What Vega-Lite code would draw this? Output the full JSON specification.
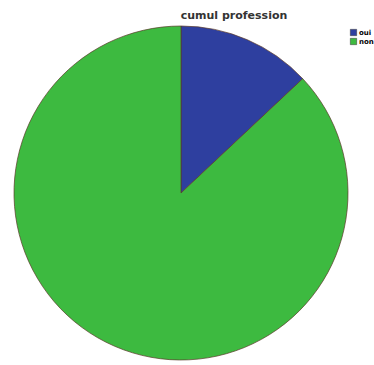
{
  "$schema": "https://vega.github.io/schema/vega-lite/v6.json",
  "autosize": "none",
  "width": 362,
  "height": 334,
  "padding": {"left": 0, "top": 26, "right": 12, "bottom": 5},
  "background": "white",
  "title": {"text": "cumul profession", "fontSize": 11, "font": "DejaVu Sans", "fontWeight": "bold", "color": "#333", "dx": 53, "offset": 4, "anchor": "middle"},
  "data": {"values": [
    {"reponse": "oui", "n": 13},
    {"reponse": "non", "n": 87}
  ]},
  "mark": {"type": "arc", "outerRadius": 167, "stroke": "#5a3a2a", "strokeWidth": 0.7},
  "encoding": {
    "theta": {"field": "n", "type": "quantitative", "stack": true},
    "order": {"field": "reponse", "sort": "descending"},
    "color": {"field": "reponse", "type": "nominal", "sort": ["oui", "non"],
      "scale": {"domain": ["oui", "non"], "range": ["#2e3f9f", "#3dba40"]},
      "legend": {"title": null, "orient": "none", "legendX": 350, "legendY": 3, "symbolType": "square", "symbolSize": 40, "symbolStrokeColor": "#333", "symbolStrokeWidth": 0.5, "labelFontSize": 7, "labelFont": "DejaVu Sans", "labelFontWeight": "bold", "labelOffset": 2, "rowPadding": 0}
    }
  },
  "config": {"view": {"stroke": null}}
}
